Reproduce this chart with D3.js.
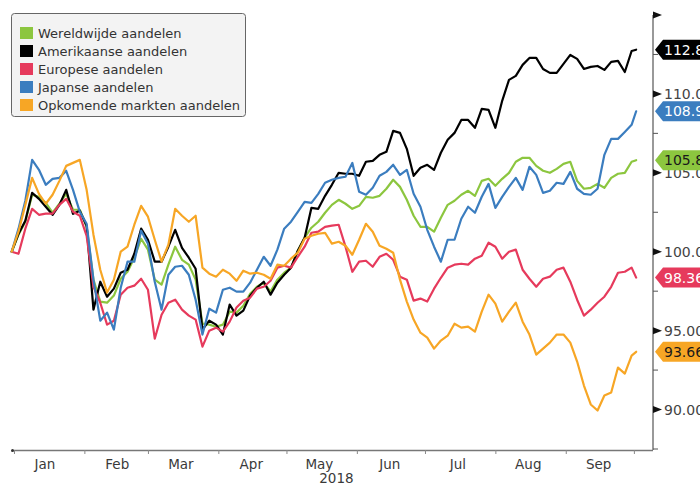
<!DOCTYPE html>
<html>
<head>
<meta charset="utf-8">
<script src="https://cdn.jsdelivr.net/npm/d3@7"></script>
<style>
  body { margin: 0; background: #fff; }
  svg { display: block; font-family: "DejaVu Sans", Verdana, sans-serif; }
</style>
</head>
<body>
<svg id="chart" width="700" height="486"></svg>
<script>
// Index levels (start = 100), sampled every three days through 2018
const dates = ["2017-12-31","2018-01-03","2018-01-06","2018-01-09","2018-01-12","2018-01-15","2018-01-18","2018-01-21","2018-01-24","2018-01-27","2018-01-30",
  "2018-02-02","2018-02-05","2018-02-08","2018-02-11","2018-02-14","2018-02-17","2018-02-20","2018-02-23","2018-02-26",
  "2018-03-01","2018-03-04","2018-03-07","2018-03-10","2018-03-13","2018-03-16","2018-03-19","2018-03-22","2018-03-25","2018-03-28","2018-03-31",
  "2018-04-03","2018-04-06","2018-04-09","2018-04-12","2018-04-15","2018-04-18","2018-04-21","2018-04-24","2018-04-27","2018-04-30",
  "2018-05-03","2018-05-06","2018-05-09","2018-05-12","2018-05-15","2018-05-18","2018-05-21","2018-05-24","2018-05-27","2018-05-30",
  "2018-06-02","2018-06-05","2018-06-08","2018-06-11","2018-06-14","2018-06-17","2018-06-20","2018-06-23","2018-06-26","2018-06-29",
  "2018-07-02","2018-07-05","2018-07-08","2018-07-11","2018-07-14","2018-07-17","2018-07-20","2018-07-23","2018-07-26","2018-07-29",
  "2018-08-01","2018-08-04","2018-08-07","2018-08-10","2018-08-13","2018-08-16","2018-08-19","2018-08-22","2018-08-25","2018-08-28","2018-08-31",
  "2018-09-03","2018-09-06","2018-09-09","2018-09-12","2018-09-15","2018-09-18","2018-09-21","2018-09-24","2018-09-27","2018-09-30","2018-10-02"];

const wereldwijde = [100.0,101.08,101.9,103.61,103.48,103.1,102.47,103.04,103.67,102.66,102.66,
  101.58,98.23,96.84,96.77,97.22,98.29,98.73,99.62,100.82,100.13,
  98.23,97.91,99.18,100.32,99.49,99.18,98.23,95.44,95.38,95.25,
  95.38,96.2,96.14,96.58,97.34,97.78,98.04,97.47,98.23,98.67,
  98.99,100.06,100.89,101.52,101.9,102.47,102.97,103.29,103.04,102.72,
  102.91,103.48,103.42,103.54,103.99,104.56,104.11,103.29,102.28,101.58,
  101.58,101.27,102.15,102.97,103.23,103.61,103.86,103.54,104.49,104.62,
  104.18,104.62,105.0,105.7,105.95,105.95,105.44,105.13,105.0,105.25,
  105.57,105.7,104.49,103.99,104.05,104.3,104.05,104.68,104.94,105.0,
  105.7,105.8];

const amerikaanse = [100.0,101.14,101.96,103.73,103.35,102.85,102.34,102.97,103.92,102.4,102.59,
  101.65,96.33,98.1,97.15,97.66,98.67,98.86,99.87,101.46,100.76,
  99.37,99.37,100.32,101.39,100.25,99.62,98.92,95.06,95.63,95.38,
  94.75,96.65,95.95,96.27,97.22,97.72,98.1,97.28,98.04,98.54,
  98.99,100.06,100.89,102.78,102.72,103.54,104.24,105.0,104.94,104.94,
  104.81,105.7,105.76,106.14,106.33,107.66,107.53,106.52,104.81,105.32,
  105.51,105.19,106.27,107.09,107.53,108.35,108.35,107.85,109.05,108.99,
  107.85,109.56,110.89,111.14,111.84,112.28,112.28,111.58,111.33,111.33,
  111.9,112.47,112.22,111.58,111.71,111.77,111.52,112.03,112.09,111.39,
  112.72,112.8];

const europese = [100.0,99.87,101.46,102.72,102.34,102.41,102.41,102.97,103.35,102.53,102.28,
  101.01,97.78,96.77,95.38,95.63,97.28,97.72,97.85,98.29,97.59,
  94.49,96.01,96.77,96.96,96.33,95.95,95.7,93.99,95.0,95.19,
  94.94,95.57,96.46,96.9,97.09,97.66,97.78,98.16,98.99,99.11,
  98.99,99.68,100.32,101.2,101.27,101.58,101.65,101.71,100.32,98.73,
  99.37,99.43,99.05,99.68,99.87,99.49,98.42,98.23,96.9,97.03,
  96.84,97.66,98.35,98.99,99.18,99.24,99.18,99.56,99.75,100.57,
  100.32,99.56,100.0,100.13,98.86,98.29,97.78,98.29,98.42,98.86,
  98.99,98.1,96.96,95.95,96.33,96.77,97.15,97.78,98.67,98.73,
  98.99,98.36];

const japanse = [100.0,101.46,103.23,105.82,105.19,104.24,104.62,104.68,105.13,103.92,102.53,
  101.77,98.23,95.63,96.14,95.06,97.72,99.37,99.37,101.33,100.51,
  98.1,96.33,98.54,99.05,99.11,98.54,96.96,94.75,96.39,96.14,
  97.59,97.72,97.47,97.47,98.04,98.86,99.68,99.11,100.13,101.46,
  101.9,102.53,103.16,103.1,103.67,104.37,104.56,104.68,104.75,105.63,
  103.8,103.61,104.05,104.81,105.06,105.51,104.87,105.19,103.67,102.85,
  101.39,100.32,99.37,100.76,100.76,102.09,102.85,102.47,103.48,104.3,
  102.78,103.48,104.11,104.68,103.92,105.38,104.87,103.73,103.86,104.37,
  104.3,105.06,103.99,103.67,103.61,103.99,106.14,107.15,107.15,107.59,
  108.04,108.9];

const opkomende = [100.0,101.27,102.97,104.68,103.67,103.04,103.61,104.49,105.44,105.63,105.82,
  103.92,101.08,98.86,97.41,98.23,100.0,100.32,101.71,102.91,102.22,
  100.76,99.37,100.44,102.72,102.28,101.9,102.28,98.99,98.61,98.42,
  98.86,98.61,98.16,98.8,98.61,98.67,98.54,98.29,99.18,99.11,
  99.56,99.94,100.82,101.01,101.14,101.2,100.51,100.63,100.38,99.81,
  100.76,101.77,101.27,100.38,100.19,99.94,98.23,96.84,95.7,94.87,
  94.56,93.86,94.37,94.68,95.44,95.19,95.25,94.94,96.2,97.28,
  96.71,95.57,96.2,96.77,95.57,94.75,93.48,93.86,94.24,94.75,
  94.75,94.24,93.04,91.52,90.32,89.94,90.89,91.08,92.66,92.28,
  93.42,93.66];

const seriesNames = ["Wereldwijde aandelen", "Amerikaanse aandelen", "Europese aandelen", "Japanse aandelen", "Opkomende markten aandelen"];
const seriesValues = [wereldwijde, amerikaanse, europese, japanse, opkomende];
const seriesColors = ["#8cc63f", "#000000", "#e63a5c", "#3b7dbf", "#f7a625"];
const tagTextColors = ["#1a1a1a", "#ffffff", "#ffffff", "#ffffff", "#1a1a1a"];

const monthLabels = ["Jan", "Feb", "Mar", "Apr", "May", "Jun", "Jul", "Aug", "Sep"];
const yearLabel = "2018";
const yMajorTicks = [90, 95, 100, 105, 110];
const yArrowTicks = [90, 95, 100, 105, 110, 115];
const yMinorTicks = [87.5, 92.5, 97.5, 102.5, 107.5, 112.5];

const parse = d3.timeParse("%Y-%m-%d");
const dateObjs = dates.map(parse);

const svg = d3.select("#chart");

const plotLeft = 11.7, plotRight = 653, plotTop = 15, plotBottom = 449;

const x = d3.scaleTime()
  .domain([new Date(2017, 11, 31), new Date(2018, 9, 9, 10)])
  .range([plotLeft, plotRight]);
const y = d3.scaleLinear().domain([87.5, 115]).range([plotBottom, plotTop]);

// Bottom axis
const axisY = 450;
const monthStarts = d3.range(0, 10).map(m => new Date(2018, m, 1));
const xAxis = d3.axisBottom(x)
  .tickValues(monthStarts)
  .tickSize(4)
  .tickFormat("");
const gx = svg.append("g")
  .attr("transform", `translate(0,${axisY})`)
  .call(xAxis);
gx.select(".domain").attr("d", `M12,0.5H${plotRight}`).attr("stroke", "#777").attr("stroke-width", 1.5);
gx.selectAll(".tick line").attr("stroke", "#888");

svg.append("circle").attr("cx", 12.5).attr("cy", axisY + 0.5).attr("r", 1.5).attr("fill", "#333");

svg.append("g").selectAll("text")
  .data(monthLabels)
  .join("text")
  .attr("x", (d, i) => x(new Date(2018, i, 15, 12)) - (i === 0 ? 2 : 0))
  .attr("y", 469)
  .attr("text-anchor", "middle")
  .attr("font-size", 13.5)
  .attr("fill", "#3a3a3a")
  .text(d => d);

svg.append("text")
  .attr("x", x(new Date(2018, 4, 23)))
  .attr("y", 483)
  .attr("text-anchor", "middle")
  .attr("font-size", 13.5)
  .attr("fill", "#3a3a3a")
  .text(yearLabel);

// Right axis
const fmt = d3.format(".4r");
const gy = svg.append("g").attr("transform", `translate(${plotRight},0)`);
gy.append("line")
  .attr("x1", 0).attr("x2", 0)
  .attr("y1", plotTop).attr("y2", axisY)
  .attr("stroke", "#777").attr("stroke-width", 1.5);
gy.selectAll(".minor")
  .data(yMinorTicks)
  .join("line")
  .attr("class", "minor")
  .attr("x1", 0).attr("x2", 5)
  .attr("y1", d => y(d)).attr("y2", d => y(d))
  .attr("stroke", "#555").attr("stroke-width", 1);
gy.selectAll(".arrow")
  .data(yArrowTicks)
  .join("path")
  .attr("class", "arrow")
  .attr("d", d => `M0,${y(d) - 3.5}L9,${y(d)}L0,${y(d) + 3.5}Z`)
  .attr("fill", "#111");
gy.selectAll(".ylab")
  .data(yMajorTicks)
  .join("text")
  .attr("class", "ylab")
  .attr("x", 11)
  .attr("y", d => y(d))
  .attr("dy", "0.36em")
  .attr("font-size", 14)
  .attr("fill", "#444")
  .text(d => fmt(d));

// Lines
const line = d3.line()
  .x((d, i) => x(dateObjs[i]))
  .y(d => y(d))
  .curve(d3.curveLinear);

svg.append("g")
  .selectAll("path")
  .data(seriesValues)
  .join("path")
  .attr("d", d => line(d))
  .attr("fill", "none")
  .attr("stroke", (d, i) => seriesColors[i])
  .attr("stroke-width", 2.2)
  .attr("stroke-linejoin", "round")
  .attr("stroke-linecap", "round");

// Last-value tags on the right axis
const tags = svg.append("g").selectAll("g")
  .data(seriesValues.map((vals, i) => ({ v: vals[vals.length - 1], i })))
  .join("g")
  .attr("transform", d => `translate(0,${y(d.v)})`);
tags.append("path")
  .attr("d", "M655,0L663,-10H702V10H663Z")
  .attr("fill", d => seriesColors[d.i]);
tags.append("text")
  .attr("x", 664)
  .attr("dy", "0.36em")
  .attr("font-size", 14)
  .attr("fill", d => tagTextColors[d.i])
  .text(d => fmt(d.v));

// Legend
const legend = svg.append("g");
legend.append("rect")
  .attr("x", 11.5).attr("y", 13.5)
  .attr("width", 234).attr("height", 103)
  .attr("rx", 3)
  .attr("fill", "#f3f3f3")
  .attr("stroke", "#666");
const rows = legend.selectAll(".row")
  .data(seriesNames)
  .join("g")
  .attr("class", "row")
  .attr("transform", (d, i) => `translate(0,${33 + i * 18})`);
rows.append("rect")
  .attr("x", 20).attr("y", -6)
  .attr("width", 13).attr("height", 12)
  .attr("fill", (d, i) => seriesColors[i]);
rows.append("text")
  .attr("x", 38)
  .attr("dy", "0.36em")
  .attr("font-size", 13)
  .attr("fill", "#333")
  .text(d => d);
</script>
</body>
</html>
